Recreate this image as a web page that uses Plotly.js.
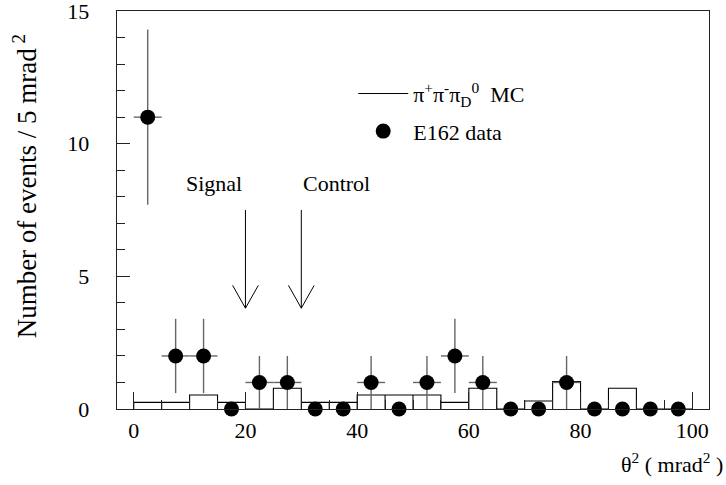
<!DOCTYPE html>
<html><head><meta charset="utf-8">
<script src="https://cdn.plot.ly/plotly-3.0.1.min.js"></script>
<style>html,body{margin:0;padding:0;background:#fff}#chart{width:726px;height:485px}</style>
</head><body><div id="chart"></div>
<script>
// theta^2 bin centres (mrad^2), 5 mrad^2 bins
const binCenters = [2.5, 7.5, 12.5, 17.5, 22.5, 27.5, 32.5, 37.5, 42.5, 47.5,
                    52.5, 57.5, 62.5, 67.5, 72.5, 77.5, 82.5, 87.5, 92.5, 97.5];
const binWidth = 5;
// pi+ pi- pi0_D Monte Carlo (normalised) histogram
const mcCounts = [0.25, 0.25, 0.53, 0.25, 0, 0.78, 0.25, 0.25, 0.53, 0.53,
                  0.53, 0.25, 0.78, 0, 0.3, 1.03, 0, 0.78, 0, 0];
// E162 data
const dataCounts = [11, 2, 2, 0, 1, 1, 0, 0, 1, 0, 1, 2, 1, 0, 0, 1, 0, 0, 0, 0];
const dataErrY   = [3.3, 1.4, 1.4, 0, 1, 1, 0, 0, 1, 0, 1, 1.4, 1, 0, 0, 1, 0, 0, 0, 0];
const dataErrX   = [2.5, 2.5, 2.5, 0, 2.5, 2.5, 0, 0, 2.5, 0, 2.5, 2.5, 2.5, 0, 0, 2.5, 0, 0, 0, 0];
// cut arrows
const arrowLabels = ['Signal', 'Control'];
const arrowX = [20, 30];
const arrowTop = 7.5;
const arrowTip = 3.8;

const FONT = "'Liberation Serif', 'Times New Roman', Times, serif";

// build histogram outline (each bin drawn as a box down to the baseline)
const hx = [], hy = [];
binCenters.forEach((c, i) => {
  const lo = c - binWidth / 2, hi = c + binWidth / 2;
  hx.push(lo, lo, hi, hi);
  hy.push(0, mcCounts[i], mcCounts[i], 0);
});

const traces = [
  {
    type: 'scatter', mode: 'lines', x: hx, y: hy,
    name: 'π<sup>+</sup>π<sup>-</sup>π<sub>D</sub><sup>0</sup>&nbsp; MC',
    line: {color: '#000', width: 1.1},
    legendgroup: 'mc', hoverinfo: 'skip'
  },
  {
    type: 'scatter', mode: 'markers', x: binCenters, y: dataCounts,
    name: 'E162 data',
    marker: {color: '#000', size: 15},
    error_y: {type: 'data', array: dataErrY, visible: true, color: '#666', thickness: 1.4, width: 0},
    error_x: {type: 'data', array: dataErrX, visible: true, color: '#666', thickness: 1.4, width: 0},
    cliponaxis: false,
    legendgroup: 'data'
  }
];

// arrow shapes (shaft + open V head)
const armDX = 2.3, armDY = 0.86;
const shapes = [];
arrowX.forEach(x => {
  shapes.push({type: 'path', xref: 'x', yref: 'y',
    path: `M${x},${arrowTop} L${x},${arrowTip} M${x - armDX},${arrowTip + armDY} L${x},${arrowTip} L${x + armDX},${arrowTip + armDY}`,
    line: {color: '#000', width: 1}});
});

const annotations = [
  {text: arrowLabels[0], x: 19.8, y: 8.5, xref: 'x', yref: 'y', showarrow: false,
   xanchor: 'right', yanchor: 'middle', font: {family: FONT, size: 22, color: '#000'}},
  {text: arrowLabels[1], x: 30, y: 8.5, xref: 'x', yref: 'y', showarrow: false,
   xanchor: 'left', yanchor: 'middle', font: {family: FONT, size: 22, color: '#000'}},
  {text: 'Number of events / 5 mrad<sup> 2</sup>', textangle: -90,
   x: -0.155, y: 0.56, xref: 'paper', yref: 'paper', showarrow: false,
   xanchor: 'center', yanchor: 'middle', font: {family: FONT, size: 27, color: '#000'}},
  {text: 'θ<sup>2</sup> ( mrad<sup>2</sup> )',
   x: 1.027, y: -0.135, xref: 'paper', yref: 'paper', showarrow: false,
   xanchor: 'right', yanchor: 'middle', font: {family: FONT, size: 22, color: '#000'}}
];

const layout = {
  width: 726, height: 485,
  margin: {l: 117, r: 17, t: 11, b: 76},
  paper_bgcolor: '#fff', plot_bgcolor: '#fff',
  font: {family: FONT, size: 22, color: '#000'},
  showlegend: true,
  legend: {x: 0.399, y: 0.845, xanchor: 'left', yanchor: 'top',
           bgcolor: 'rgba(0,0,0,0)', tracegroupgap: 6, itemwidth: 50,
           font: {family: FONT, size: 22, color: '#000'}},
  xaxis: {
    range: [-3, 103], dtick: 20, tick0: 0,
    ticks: 'inside', ticklen: 17, tickwidth: 1, tickcolor: '#222',
    minor: {dtick: 5, ticks: 'inside', ticklen: 9, tickcolor: '#222', tickwidth: 1},
    showline: true, linecolor: '#222', linewidth: 1.3, mirror: true,
    showgrid: false, zeroline: false,
    ticklabelstandoff: 1,
    tickfont: {family: FONT, size: 22, color: '#000'}
  },
  yaxis: {
    range: [0, 15.001], dtick: 5, tick0: 0,
    ticks: 'inside', ticklen: 13, tickwidth: 1, tickcolor: '#222',
    minor: {dtick: 1, ticks: 'inside', ticklen: 8, tickcolor: '#222', tickwidth: 1},
    showline: true, linecolor: '#222', linewidth: 1.3, mirror: true,
    showgrid: false, zeroline: false,
    ticklabelstandoff: 22, ticklabeloverflow: 'allow',
    tickfont: {family: FONT, size: 22, color: '#000'}
  },
  shapes: shapes,
  annotations: annotations
};

Plotly.newPlot('chart', traces, layout, {displayModeBar: false, staticPlot: true});
</script></body></html>
